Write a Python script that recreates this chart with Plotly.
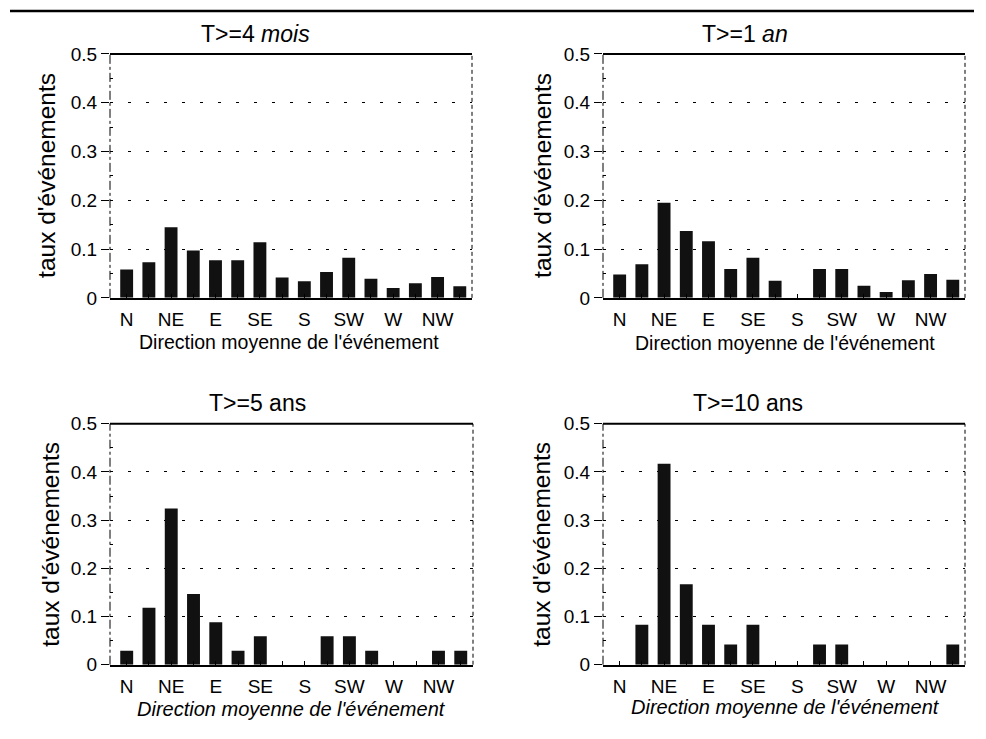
import plotly.graph_objects as go
from plotly.subplots import make_subplots

# 16 wind directions, one label every second bar
directions = ["N", "NNE", "NE", "ENE", "E", "ESE", "SE", "SSE",
              "S", "SSW", "SW", "WSW", "W", "WNW", "NW", "NNW"]
shown_labels = ["N", "", "NE", "", "E", "", "SE", "",
                "S", "", "SW", "", "W", "", "NW", ""]

titles = ["T>=4 <i>mois</i>", "T>=1 <i>an</i>", "T>=5 ans", "T>=10 ans"]

taux_4mois = [0.058, 0.073, 0.145, 0.097, 0.077, 0.077, 0.114, 0.042,
              0.034, 0.053, 0.082, 0.039, 0.020, 0.030, 0.043, 0.024]
taux_1an = [0.048, 0.069, 0.195, 0.137, 0.116, 0.059, 0.082, 0.035,
            0.0, 0.059, 0.059, 0.025, 0.012, 0.036, 0.049, 0.037]
taux_5ans = [0.029, 0.118, 0.324, 0.147, 0.088, 0.029, 0.059, 0.0,
             0.0, 0.059, 0.059, 0.029, 0.0, 0.0, 0.029, 0.029]
taux_10ans = [0.0, 0.083, 0.417, 0.167, 0.083, 0.042, 0.083, 0.0,
              0.0, 0.042, 0.042, 0.0, 0.0, 0.0, 0.0, 0.042]

series = [taux_4mois, taux_1an, taux_5ans, taux_10ans]

W, H = 966, 740
OFF = 8
FONT = "Liberation Sans, Arial, sans-serif"

# plot area boxes in window pixels: (left, right, top, bottom)
boxes = [(110, 472, 53, 297), (603, 965, 53, 297),
         (110, 473, 423, 664), (603, 965, 423, 664)]
# text positions in window pixels
title_pos = [(255, 33), (745, 33), (257, 402), (748, 402)]
xtitle_pos = [(289, 341), (785, 342), (291, 708), (785, 706)]
ytitle_pos = [(47, 175), (543, 175), (51, 544), (542, 544)]

# vertical correction measured on the rendered page
SY, CY = 0.972, 9.25


def px(x):
    return (x - OFF) / W


def py(y):
    return 1 - ((y - CY) / SY - OFF) / H


fig = make_subplots(rows=2, cols=2)

for i, vals in enumerate(series):
    r, c = i // 2 + 1, i % 2 + 1
    fig.add_trace(go.Bar(x=list(range(len(directions))), y=vals,
                         marker=dict(color="#111111", line=dict(width=0)),
                         width=0.58, showlegend=False,
                         hovertext=directions), row=r, col=c)

for i, (x0, x1, y0, y1) in enumerate(boxes):
    n = "" if i == 0 else str(i + 1)
    fig.update_layout(**{
        "xaxis" + n: dict(domain=[px(x0), px(x1)], range=[-0.75, 15.55],
                          tickvals=list(range(len(directions))), ticktext=shown_labels,
                          ticks="inside", ticklen=4, tickcolor="black",
                          ticklabelstandoff=4,
                          showgrid=False, zeroline=False, showline=True,
                          linecolor="black", linewidth=1.5,
                          tickfont=dict(size=19, color="black", family=FONT),
                          fixedrange=True),
        "yaxis" + n: dict(domain=[py(y1), py(y0)], range=[0, 0.5],
                          tickvals=[0, 0.1, 0.2, 0.3, 0.4, 0.5],
                          ticks="outside", ticklen=8, tickcolor="black",
                          showgrid=True, gridcolor="black", gridwidth=1,
                          griddash="3px,15px", zeroline=False, showline=False,
                          minor=dict(tickvals=[0.05, 0.15, 0.25, 0.35, 0.45],
                                     ticks="inside", ticklen=3, tickcolor="black"),
                          tickfont=dict(size=19, color="black", family=FONT),
                          fixedrange=True),
    })
    xd, yd = "x" + n + " domain", "y" + n + " domain"
    # frame: solid top, dashed left and right
    fig.add_shape(type="line", xref=xd, yref=yd, x0=0, x1=1, y0=1, y1=1,
                  line=dict(color="black", width=2))
    fig.add_shape(type="line", xref=xd, yref=yd, x0=0, x1=0, y0=0, y1=1,
                  line=dict(color="black", width=1, dash="dashdot"))
    fig.add_shape(type="line", xref=xd, yref=yd, x0=1, x1=1, y0=0, y1=1,
                  line=dict(color="black", width=1, dash="4px,3px"))

    tx, ty = title_pos[i]
    fig.add_annotation(text=titles[i], x=px(tx), y=py(ty),
                       xref="paper", yref="paper", xanchor="center", yanchor="middle",
                       showarrow=False, font=dict(size=23, color="black", family=FONT))
    xt = "Direction moyenne de l'événement"
    xsize = 19.5
    if i >= 2:
        xt = "<i>" + xt + "</i>"
        xsize = 20
    tx, ty = xtitle_pos[i]
    fig.add_annotation(text=xt, x=px(tx), y=py(ty),
                       xref="paper", yref="paper", xanchor="center", yanchor="middle",
                       showarrow=False, font=dict(size=xsize, color="black", family=FONT))
    tx, ty = ytitle_pos[i]
    fig.add_annotation(text="taux d'événements", x=px(tx), y=py(ty),
                       xref="paper", yref="paper", xanchor="center", yanchor="middle",
                       textangle=-90, showarrow=False,
                       font=dict(size=24.5, color="black", family=FONT))

# rule across the top of the page
fig.add_shape(type="line", xref="paper", yref="paper", x0=px(10), x1=1,
              y0=py(10), y1=py(10), line=dict(color="black", width=2.5))

fig.update_layout(width=W, height=H, margin=dict(l=0, r=0, t=0, b=0),
                  plot_bgcolor="white", paper_bgcolor="white",
                  bargap=0.4, font=dict(family=FONT, color="black"))

fig.write_html("out.html")
